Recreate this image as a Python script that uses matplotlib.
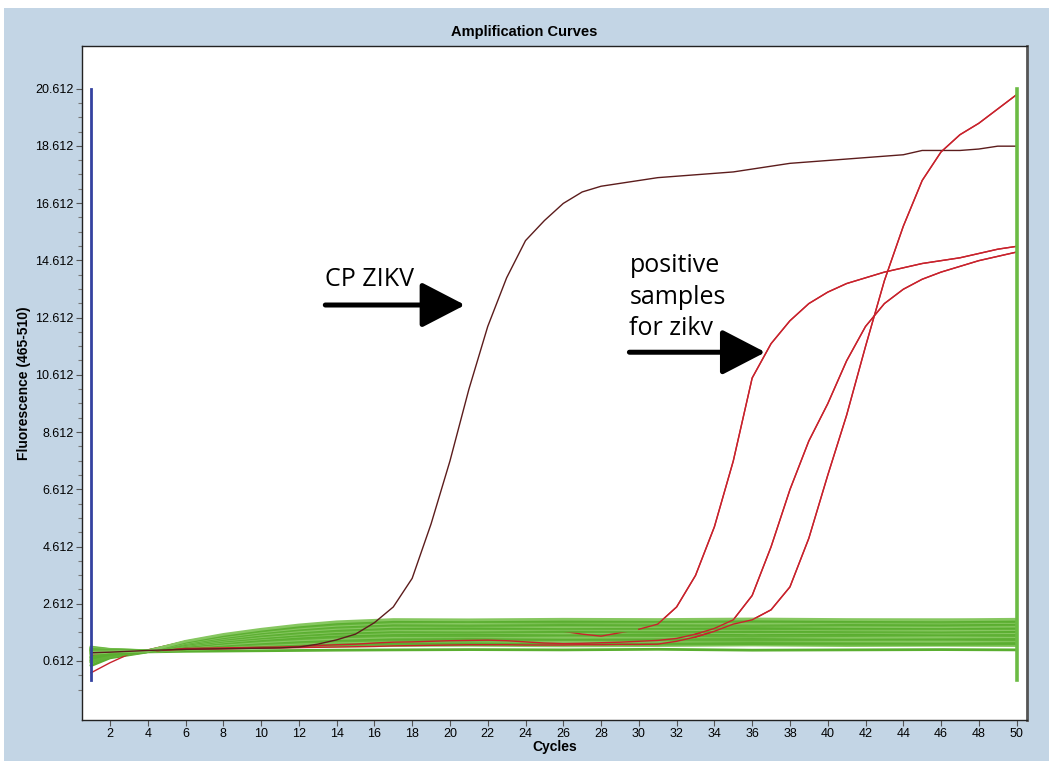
import numpy as np
import matplotlib
matplotlib.use('Agg')
import matplotlib.pyplot as plt
from matplotlib.patches import Rectangle

# ciclos de las curvas de amplificacion (lecturas del grafico)
cycles = list(range(1, 51))

cp_zikv = [0.90, 0.92, 0.95, 0.98, 1.00, 1.02, 1.03, 1.04, 1.05, 1.06,
           1.07, 1.10, 1.20, 1.35, 1.55, 1.95, 2.50, 3.50, 5.40, 7.60,
           10.10, 12.30, 14.00, 15.30, 16.00, 16.60, 17.00, 17.20, 17.30, 17.40,
           17.50, 17.55, 17.60, 17.65, 17.70, 17.80, 17.90, 18.00, 18.05, 18.10,
           18.15, 18.20, 18.25, 18.30, 18.45, 18.45, 18.45, 18.50, 18.60, 18.60]

pos_a = [0.85, 0.90, 0.95, 1.00, 1.15, 1.30, 1.40, 1.50, 1.55, 1.60,
         1.65, 1.70, 1.72, 1.75, 1.78, 1.80, 1.80, 1.80, 1.79, 1.80,
         1.80, 1.79, 1.78, 1.76, 1.72, 1.65, 1.55, 1.48, 1.60, 1.72,
         1.90, 2.50, 3.60, 5.30, 7.60, 10.50, 11.70, 12.50, 13.10, 13.50,
         13.80, 14.00, 14.20, 14.35, 14.50, 14.60, 14.70, 14.85, 15.00, 15.10]

pos_b = [0.20, 0.55, 0.85, 0.95, 1.00, 1.05, 1.06, 1.07, 1.08, 1.09,
         1.10, 1.12, 1.15, 1.18, 1.20, 1.24, 1.27, 1.28, 1.30, 1.32,
         1.33, 1.34, 1.32, 1.28, 1.24, 1.22, 1.23, 1.25, 1.27, 1.30,
         1.33, 1.40, 1.55, 1.75, 2.05, 2.90, 4.60, 6.60, 8.30, 9.60,
         11.10, 12.30, 13.10, 13.60, 13.95, 14.20, 14.40, 14.60, 14.75, 14.90]

pos_c = [0.80, 0.85, 0.90, 0.95, 1.00, 1.02, 1.03, 1.04, 1.05, 1.06,
         1.07, 1.08, 1.09, 1.10, 1.11, 1.12, 1.14, 1.15, 1.16, 1.17,
         1.18, 1.18, 1.18, 1.17, 1.17, 1.17, 1.18, 1.18, 1.19, 1.19,
         1.20, 1.30, 1.45, 1.65, 1.90, 2.05, 2.40, 3.20, 4.90, 7.10,
         9.20, 11.60, 13.90, 15.80, 17.40, 18.40, 19.00, 19.40, 19.90, 20.40]

# curvas negativas (verdes)
cycles_g = [1, 2, 4, 6, 8, 10, 12, 14, 17, 21, 26, 31, 36, 41, 46, 50]
negativos = [
    [0.45, 0.72, 0.93, 0.95, 0.96, 0.97, 0.98, 0.99, 1.00, 1.01, 1.00, 1.02, 0.99, 1.00, 1.01, 1.00],
    [0.60, 0.80, 0.94, 1.01, 1.05, 1.08, 1.11, 1.13, 1.15, 1.16, 1.14, 1.15, 1.17, 1.15, 1.16, 1.15],
    [0.95, 0.96, 0.95, 1.02, 1.08, 1.12, 1.15, 1.18, 1.20, 1.19, 1.21, 1.20, 1.22, 1.20, 1.19, 1.21],
    [1.05, 1.00, 0.96, 1.04, 1.10, 1.15, 1.19, 1.22, 1.25, 1.24, 1.26, 1.25, 1.23, 1.26, 1.25, 1.24],
    [0.70, 0.85, 0.95, 1.05, 1.12, 1.18, 1.23, 1.27, 1.30, 1.31, 1.29, 1.30, 1.32, 1.31, 1.30, 1.32],
    [1.00, 0.98, 0.96, 1.06, 1.14, 1.21, 1.27, 1.31, 1.35, 1.34, 1.36, 1.35, 1.34, 1.36, 1.37, 1.35],
    [0.85, 0.90, 0.95, 1.08, 1.17, 1.25, 1.31, 1.36, 1.40, 1.41, 1.39, 1.40, 1.42, 1.40, 1.39, 1.41],
    [1.10, 1.02, 0.97, 1.10, 1.20, 1.28, 1.35, 1.40, 1.45, 1.46, 1.44, 1.45, 1.46, 1.44, 1.45, 1.46],
    [0.55, 0.76, 0.94, 1.11, 1.23, 1.32, 1.39, 1.45, 1.50, 1.49, 1.51, 1.50, 1.48, 1.50, 1.52, 1.50],
    [0.95, 0.95, 0.96, 1.13, 1.25, 1.35, 1.43, 1.50, 1.55, 1.56, 1.54, 1.55, 1.57, 1.55, 1.54, 1.56],
    [0.80, 0.88, 0.95, 1.15, 1.28, 1.39, 1.48, 1.55, 1.60, 1.61, 1.59, 1.62, 1.60, 1.61, 1.59, 1.60],
    [1.08, 1.01, 0.97, 1.16, 1.30, 1.41, 1.50, 1.57, 1.63, 1.62, 1.64, 1.63, 1.65, 1.63, 1.62, 1.64],
    [0.65, 0.82, 0.95, 1.17, 1.32, 1.43, 1.52, 1.60, 1.66, 1.67, 1.65, 1.66, 1.64, 1.67, 1.66, 1.65],
    [1.00, 0.98, 0.96, 1.18, 1.34, 1.46, 1.56, 1.64, 1.70, 1.69, 1.71, 1.70, 1.72, 1.70, 1.69, 1.71],
    [0.90, 0.92, 0.95, 1.19, 1.36, 1.49, 1.59, 1.67, 1.74, 1.75, 1.73, 1.74, 1.75, 1.73, 1.74, 1.75],
    [0.75, 0.86, 0.95, 1.20, 1.38, 1.52, 1.63, 1.71, 1.78, 1.77, 1.79, 1.78, 1.76, 1.78, 1.79, 1.77],
    [1.05, 1.00, 0.97, 1.22, 1.40, 1.55, 1.66, 1.75, 1.82, 1.83, 1.81, 1.82, 1.84, 1.82, 1.81, 1.83],
    [0.60, 0.79, 0.94, 1.23, 1.42, 1.58, 1.70, 1.79, 1.86, 1.85, 1.87, 1.86, 1.85, 1.87, 1.86, 1.88],
    [0.98, 0.97, 0.96, 1.24, 1.44, 1.61, 1.73, 1.83, 1.90, 1.91, 1.89, 1.90, 1.92, 1.90, 1.89, 1.91],
    [0.88, 0.91, 0.96, 1.25, 1.46, 1.63, 1.76, 1.86, 1.94, 1.93, 1.95, 1.94, 1.93, 1.95, 1.94, 1.96],
    [1.02, 0.99, 0.97, 1.27, 1.49, 1.66, 1.80, 1.90, 1.98, 1.99, 1.97, 1.98, 2.00, 1.98, 1.97, 1.99],
    [0.72, 0.84, 0.95, 1.28, 1.51, 1.69, 1.83, 1.94, 2.02, 2.01, 2.03, 2.02, 2.01, 2.03, 2.04, 2.02],
    [0.92, 0.93, 0.96, 1.30, 1.54, 1.72, 1.87, 1.98, 2.06, 2.05, 2.07, 2.06, 2.08, 2.06, 2.05, 2.07],
]

yticks = [0.612, 2.612, 4.612, 6.612, 8.612, 10.612, 12.612, 14.612, 16.612, 18.612, 20.612]
xticks = list(range(2, 51, 2))

fondo = '#c3d5e5'
verdes = ['#5aae30', '#86c760', '#62b238']
rojo = '#c8222c'

fig = plt.figure(figsize=(10.49, 7.61), dpi=100)
fig.patch.set_facecolor('white')
fig.patches.append(Rectangle((4/1049, 0), 1, 1 - 8/761, transform=fig.transFigure,
                             facecolor=fondo, edgecolor='none', zorder=-10))

ax = fig.add_axes([82/1049, 41/761, 945/1049, 674/761])
ax.set_facecolor('white')

# los rojos quedan medio tapados por los verdes, como en el original
for i, g in enumerate(negativos[:12]):
    ax.plot(cycles_g, g, color=verdes[i % 3], lw=2.0)
ax.plot(cycles, pos_a, color=rojo, lw=1.0)
ax.plot(cycles, pos_b, color=rojo, lw=1.0)
ax.plot(cycles, pos_c, color=rojo, lw=1.0)
for i, g in enumerate(negativos[12:]):
    ax.plot(cycles_g, g, color=verdes[i % 3], lw=2.0)
ax.plot(cycles, cp_zikv, color='#5c1c1c', lw=1.0)

# redibujo la parte alta de los rojos por encima
ax.plot(cycles[29:], pos_a[29:], color=rojo, lw=1.0)
ax.plot(cycles[32:], pos_b[32:], color=rojo, lw=1.0)
ax.plot(cycles[32:], pos_c[32:], color=rojo, lw=1.0)

# lineas de limite
ax.plot([1, 1], [-0.05, 20.612], color='#3442a0', lw=2.0)
ax.plot([50, 50], [-0.05, 20.612], color='#6cbb44', lw=2.6)

ax.set_xlim(0.52, 50.55)
ax.set_ylim(-1.45, 22.1)
ax.set_xticks(xticks)
ax.set_xticklabels([str(t) for t in xticks])
ax.set_yticks(yticks)
ax.set_yticklabels(['%.3f' % t for t in yticks])
ax.set_yticks(np.arange(0.612 - 1.0, 21.0, 0.5), minor=True)
ax.tick_params(axis='both', labelsize=9, length=4, width=0.8, color='#555555', pad=2)
ax.tick_params(axis='y', which='minor', length=3, width=0.8, color='#777777')
for lab in ax.get_xticklabels() + ax.get_yticklabels():
    lab.set_family('Liberation Sans')

for s in ['left', 'bottom', 'top']:
    ax.spines[s].set_color('#222222')
    ax.spines[s].set_linewidth(1.0)
ax.spines['right'].set_color('#555555')
ax.spines['right'].set_linewidth(2.0)

fig.text(0.5, 1 - 32/761, 'Amplification Curves', ha='center', va='center',
         fontsize=10.5, fontweight='bold', family='Liberation Sans')
ax.set_xlabel('Cycles', fontsize=10, fontweight='bold', family='Liberation Sans', labelpad=0)
ax.set_ylabel('Fluorescence (465-510)', fontsize=10, fontweight='bold',
              family='Liberation Sans', labelpad=3)

# anotaciones
ax.text(13.4, 13.7, 'CP ZIKV', fontsize=18, family='Open Sans', ha='left', va='baseline')
ax.annotate('', xy=(20.8, 13.05), xytext=(13.4, 13.05),
            arrowprops=dict(arrowstyle='-|>,head_length=2.7,head_width=1.4',
                            lw=3.6, color='black', shrinkA=0, shrinkB=0))
for txt, yy in [('positive', 14.2), ('samples', 13.1), ('for zikv', 12.0)]:
    ax.text(29.5, yy, txt, fontsize=18, family='Open Sans', ha='left', va='baseline')
ax.annotate('', xy=(36.7, 11.4), xytext=(29.5, 11.4),
            arrowprops=dict(arrowstyle='-|>,head_length=2.7,head_width=1.4',
                            lw=3.6, color='black', shrinkA=0, shrinkB=0))

plt.savefig('out.png', dpi=100)
